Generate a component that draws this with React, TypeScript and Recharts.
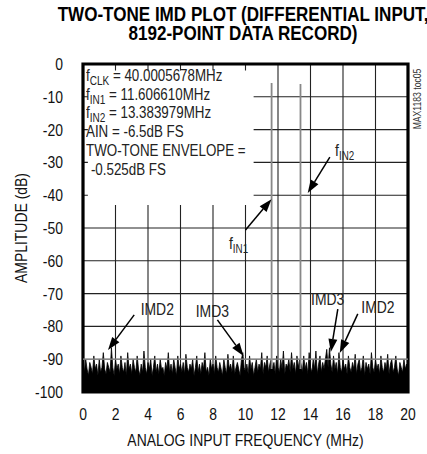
import React from "react";
import {
  Area,
  CartesianGrid,
  ComposedChart,
  Line,
  ReferenceArea,
  ReferenceDot,
  ReferenceLine,
  XAxis,
  YAxis,
} from "recharts";

// no narrow face installed, so Liberation Sans squeezed to 82% stands in for Arial Narrow
const FONT = '"Liberation Sans", Arial, sans-serif';
const SQUEEZE = 0.82;

// FFT noise floor left to right (0 .. 20MHz)
const noiseDb = [
  -91.5, -94, -90, -93, -95, -91, -92.5, -94.5, -89, -93, -91.5, -95, -90, -94, -92.5, -88, -93, -94.5, -91, -92.5,
  -94, -86.5, -92.5, -95, -90, -93, -91.5, -94.5, -89, -92.5, -94, -91, -95, -88, -93, -91.5, -94.5, -90, -92.5, -94,
  -89, -93, -95, -91.5, -94, -87.5, -92.5, -94.5, -91, -93, -90, -95, -92.5, -89, -94, -91.5, -94.5, -90, -93, -92.5,
  -95, -91, -93, -88, -94, -91.5, -94.5, -90, -92.5, -95, -89, -93, -91.5, -94, -91, -94.5, -88.5, -92.5, -94, -91.5,
  -93, -90, -95, -92.5, -89, -94, -91.5, -94.5, -91, -93, -88, -94, -92.5, -95, -90, -93, -91.5, -94.5, -89, -92.5,
  -94, -91, -93, -95, -90, -92.5, -94.5, -88.5, -93, -91.5, -94, -89, -94.5, -92.5, -91, -93, -95, -90, -88, -92.5,
  -94, -91.5, -94.5, -89, -93, -91, -95, -92.5, -90, -94, -91.5, -93, -88, -94.5, -91, -92.5, -89, -94, -91.5, -90,
  -93, -91, -94.5, -89, -92.5, -94, -90, -93, -87.5, -94.5, -91.5, -92.5, -90, -94, -88, -93, -91, -94.5, -89, -92.5,
  -90, -91.5, -94, -89, -93, -91, -94.5, -88, -92.5, -94, -90, -93, -87.5, -94.5, -91.5, -89, -94, -91, -93, -90,
  -87, -92.5, -86.5, -91.5, -94, -89, -93, -91, -94.5, -88, -92.5, -94, -90, -93, -91.5, -94.5, -89, -92.5, -94, -91,
  -93, -88.5, -94.5, -91.5, -90, -94, -92.5, -89, -95, -91, -93, -91.5, -94.5, -88, -92.5, -94, -90, -93, -91.5, -94.5,
  -89, -92.5, -94, -91, -93, -88.5, -94.5, -91.5, -90, -94, -92.5, -89, -93, -95, -91, -92.5, -94, -90, -93, -91.5,
  -92.5,
];
const spanMHz = 20;
const noiseData = noiseDb.map((db, i) => ({ f: (i * spanMHz) / (noiseDb.length - 1), db }));

// the two input tones (drawn up from the noise)
const toneFreqs = [11.60661, 13.383979];
const toneLevels = [-5.8, -6.1];
const toneBase = -93;
const floorDb = -100;

const xTicks = [0, 2, 4, 6, 8, 10, 12, 14, 16, 18, 20];
const yTicks = [0, -10, -20, -30, -40, -50, -60, -70, -80, -90, -100];

// annotations: label + arrow (tail -> head), in MHz / dB
const annoText = ["IMD2", "IMD3", "f", "f", "IMD3", "IMD2"];
const annoSub = ["", "", "IN1", "IN2", "", ""];
const annoLabelX = [4.57, 7.96, 9.57, 16.1, 15.06, 18.15];
const annoLabelY = [-74.7, -75.3, -54.6, -26.2, -71.6, -74.1];
const annoTailX = [3.15, 8.27, 10.0, 15.19, 15.68, 16.91];
const annoTailY = [-76.5, -78.0, -50.6, -28.4, -74.7, -76.2];
const annoHeadX = [1.54, 9.88, 11.6, 13.83, 15.25, 15.8];
const annoHeadY = [-87.2, -89.0, -41.2, -39.3, -87.8, -88.1];

function NText({
  x,
  y,
  anchor = "middle",
  size = 17,
  dy = "0.35em",
  rotate = 0,
  children,
}: {
  x: number;
  y: number;
  anchor?: string;
  size?: number;
  dy?: string;
  rotate?: number;
  children: React.ReactNode;
}) {
  return (
    <g transform={`translate(${x},${y}) rotate(${rotate}) scale(${SQUEEZE},1)`}>
      <text x={0} y={0} dy={dy} textAnchor={anchor as any} fill="#111" fontFamily={FONT} fontSize={size}>
        {children}
      </text>
    </g>
  );
}

function XTick(p: any) {
  return (
    <NText x={p.x} y={p.y} dy="0.71em">
      {p.payload.value}
    </NText>
  );
}

function YTick(p: any) {
  return (
    <NText x={p.x} y={p.y} anchor="end">
      {p.payload.value}
    </NText>
  );
}

function Arrow(props: any) {
  const { x1, y1, x2, y2 } = props;
  const dx = x2 - x1;
  const dy = y2 - y1;
  const len = Math.hypot(dx, dy) || 1;
  const ux = dx / len;
  const uy = dy / len;
  const hl = 13;
  const hw = 4.5;
  const bx = x2 - ux * hl;
  const by = y2 - uy * hl;
  return (
    <g>
      <line x1={x1} y1={y1} x2={bx} y2={by} stroke="#000" strokeWidth={1.5} />
      <polygon
        points={`${x2},${y2} ${bx - uy * hw},${by + ux * hw} ${bx + uy * hw},${by - ux * hw}`}
        fill="#000"
      />
    </g>
  );
}

function annoLabel(main: string, sub: string) {
  return (p: any) => {
    const vb = p.viewBox || {};
    const cx = vb.x + (vb.width || 0) / 2;
    const cy = vb.y + (vb.height || 0) / 2;
    return (
      <NText x={cx} y={cy}>
        <tspan fill="#222">{main}</tspan>
        {sub ? (
          <tspan fontSize={12} dy={4} fill="#222">
            {sub}
          </tspan>
        ) : null}
      </NText>
    );
  };
}

const subStyle: React.CSSProperties = { fontSize: "0.75em", verticalAlign: "-0.3em", lineHeight: 0 };

export default function App(): React.JSX.Element {
  return (
    <div
      style={{
        position: "absolute",
        left: 0,
        top: 0,
        width: 427,
        height: 454,
        overflow: "hidden",
        background: "#fff",
        fontFamily: FONT,
      }}
    >
      <div
        style={{
          position: "absolute",
          left: 0,
          top: 4,
          width: 486,
          textAlign: "center",
          fontWeight: 900,
          fontSize: 20.8,
          lineHeight: "19px",
          whiteSpace: "nowrap",
          color: "#000",
          transform: `scaleX(${SQUEEZE})`,
          transformOrigin: "243px 0",
        }}
      >
        TWO-TONE IMD PLOT (DIFFERENTIAL INPUT,
        <br />
        8192-POINT DATA RECORD)
      </div>

      <ComposedChart
        width={427}
        height={454}
        margin={{ top: 64, right: 19, bottom: 0, left: 0 }}
        style={{ position: "absolute", left: 0, top: 0 }}
      >
        <CartesianGrid stroke="#222" strokeWidth={1.1} />
        <XAxis
          type="number"
          dataKey="f"
          domain={[0, 20]}
          ticks={xTicks}
          allowDataOverflow
          height={62}
          tickLine={false}
          axisLine={false}
          tickSize={0}
          tickMargin={16}
          tick={XTick}
          label={{
            content: (p: any) => (
              <NText x={p.viewBox.x + p.viewBox.width / 2} y={440}>
                ANALOG INPUT FREQUENCY (MHz)
              </NText>
            ),
          }}
        />
        <YAxis
          type="number"
          domain={[-100, 0]}
          ticks={yTicks}
          allowDataOverflow
          width={83}
          tickLine={false}
          axisLine={false}
          tickSize={0}
          tickMargin={20}
          tick={YTick}
          label={{
            content: (p: any) => (
              <NText x={21} y={p.viewBox.y + p.viewBox.height / 2} rotate={-90}>
                AMPLITUDE (dB)
              </NText>
            ),
          }}
        />

        {/* white panel behind the test conditions */}
        <ReferenceArea x1={0.3} x2={10.5} y1={-43} y2={-2} fill="#fff" fillOpacity={1} stroke="none" />

        <Area
          data={noiseData}
          dataKey="db"
          type="linear"
          baseValue={floorDb}
          stroke="#000"
          strokeWidth={0.8}
          fill="#000"
          fillOpacity={1}
          isAnimationActive={false}
          dot={false}
          activeDot={false}
        />

        {toneFreqs.map((f, i) => (
          <Line
            key={"tone" + i}
            data={[
              { f, db: toneBase },
              { f, db: toneLevels[i] },
            ]}
            dataKey="db"
            stroke="#888"
            strokeWidth={1.8}
            dot={false}
            activeDot={false}
            isAnimationActive={false}
          />
        ))}

        <ReferenceLine y={-90} stroke="#999" strokeWidth={1.2} />

        {annoText.map((t, i) => (
          <ReferenceLine
            key={"arrow" + i}
            segment={[
              { x: annoTailX[i], y: annoTailY[i] },
              { x: annoHeadX[i], y: annoHeadY[i] },
            ]}
            shape={Arrow}
            ifOverflow="visible"
          />
        ))}
        {annoText.map((t, i) => (
          <ReferenceDot
            key={"lbl" + i}
            x={annoLabelX[i]}
            y={annoLabelY[i]}
            r={0}
            fill="none"
            stroke="none"
            label={{ content: annoLabel(t, annoSub[i]) }}
          />
        ))}

        <ReferenceArea
          x1={0}
          x2={20}
          y1={-100}
          y2={0}
          fill="none"
          stroke="#000"
          strokeWidth={3.2}
          ifOverflow="visible"
        />
      </ComposedChart>

      <div
        style={{
          position: "absolute",
          left: 86,
          top: 66,
          fontSize: 16.3,
          lineHeight: "18.7px",
          color: "#222",
          whiteSpace: "nowrap",
          transform: `scaleX(${SQUEEZE})`,
          transformOrigin: "0 0",
        }}
      >
        <div>
          f<sub style={subStyle}>CLK</sub> = 40.0005678MHz
        </div>
        <div>
          f<sub style={subStyle}>IN1</sub> = 11.606610MHz
        </div>
        <div>
          f<sub style={subStyle}>IN2</sub> = 13.383979MHz
        </div>
        <div>AIN = -6.5dB FS</div>
        <div>TWO-TONE ENVELOPE =</div>
        <div style={{ paddingLeft: 6 }}>-0.525dB FS</div>
      </div>

      <div
        style={{
          position: "absolute",
          left: 417,
          top: 99,
          transform: `translate(-50%, -50%) rotate(-90deg) scaleX(${SQUEEZE})`,
          fontSize: 10.5,
          color: "#333",
          whiteSpace: "nowrap",
        }}
      >
        MAX1183 toc05
      </div>
    </div>
  );
}
